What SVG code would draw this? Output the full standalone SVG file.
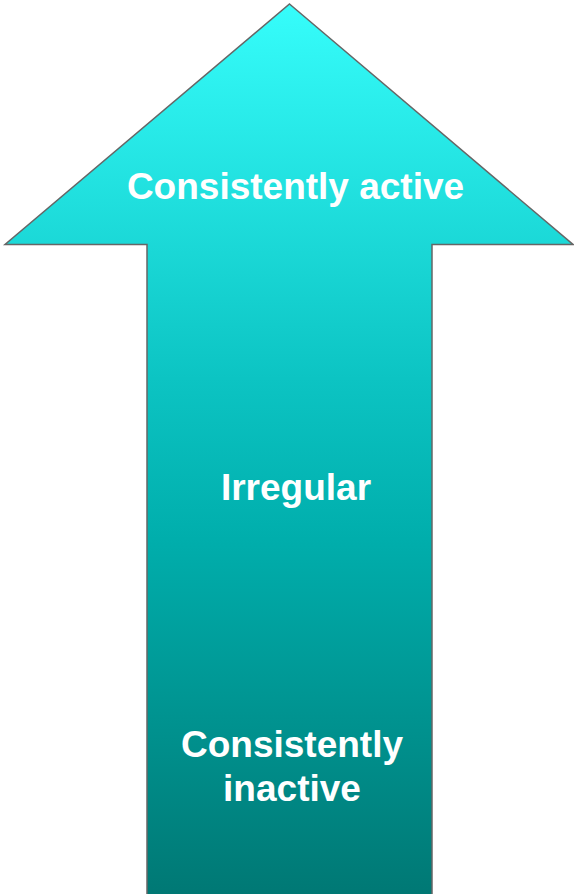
<svg xmlns="http://www.w3.org/2000/svg" width="574" height="894" viewBox="0 0 574 894">
  <style>
    .lbl { font-family: "Liberation Sans", Arial, Helvetica, sans-serif; font-weight: bold; font-size: 37px; fill: #ffffff; text-anchor: middle; }
  </style>
  <defs>
    <linearGradient id="g" x1="0" y1="0" x2="0" y2="1" gradientUnits="objectBoundingBox">
      <stop offset="0" stop-color="#36fdfb"/>
      <stop offset="0.42" stop-color="#0cc4c3"/>
      <stop offset="0.6" stop-color="#00aeac"/>
      <stop offset="1" stop-color="#007874"/>
    </linearGradient>
  </defs>
  <rect width="574" height="894" fill="#ffffff"/>
  <g id="arrow">
    <path d="M289.5,4 L573,244.5 L432,244.5 L432,896 L147,896 L147,244.5 L5,244.5 Z" fill="url(#g)" stroke="#666666" stroke-width="1.5" stroke-linejoin="miter"/>
  </g>
  <g id="label-active">
    <text class="lbl" x="295.5" y="199">Consistently active</text>
  </g>
  <g id="label-irregular">
    <text class="lbl" x="296" y="500">Irregular</text>
  </g>
  <g id="label-inactive">
    <text class="lbl" x="292" y="757">Consistently</text>
    <text class="lbl" x="292" y="801">inactive</text>
  </g>
</svg>
